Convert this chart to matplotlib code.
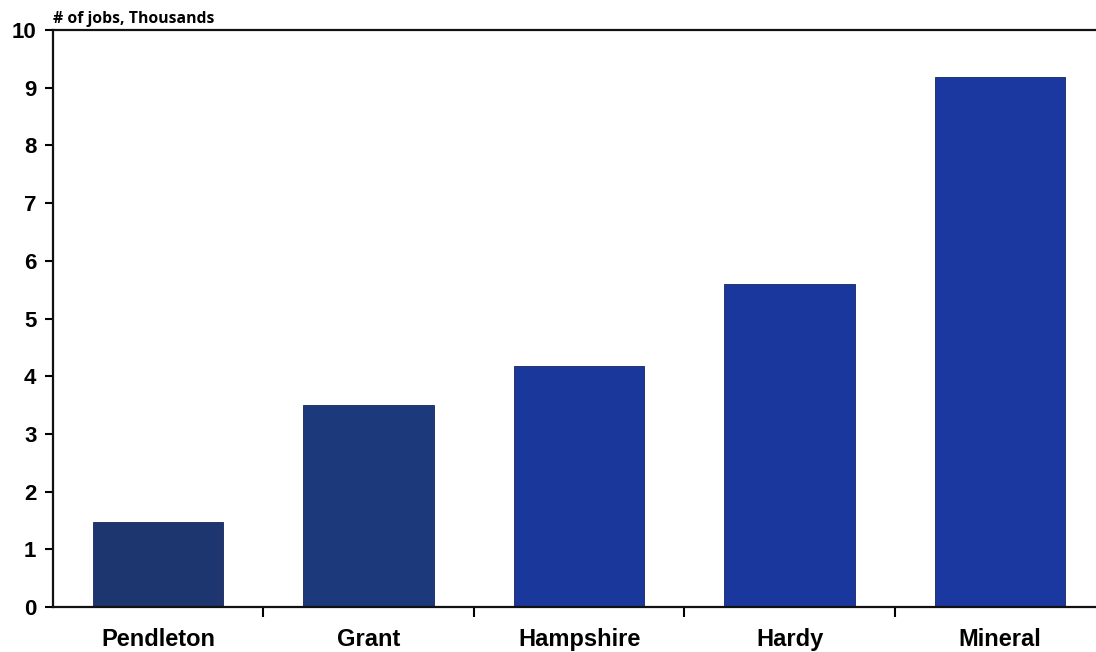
import numpy as np
from matplotlib import pyplot as plt

# Jobs by county, in thousands
counties = ['Pendleton', 'Grant', 'Hampshire', 'Hardy', 'Mineral']
jobs = [1.47, 3.50, 4.18, 5.60, 9.19]
bar_colors = ['#1d3670', '#1c397c', '#1a389c', '#1a379e', '#1a389f']

fig = plt.figure(figsize=(10.96, 6.52), dpi=100)
ax = fig.add_axes([0.0484, 0.069, 0.960, 0.885])

x = np.arange(len(counties))
ax.bar(x, jobs, width=0.62, color=bar_colors, edgecolor='#15255a', linewidth=0.6, zorder=2)

ax.set_xlim(-0.5, len(counties) - 0.5)
ax.set_ylim(0, 10)

# category labels at the centers, tick marks between categories
ax.set_xticks(x)
ax.set_xticklabels(counties, fontfamily='Liberation Sans', fontweight='bold', fontsize=17)
ax.tick_params(axis='x', which='major', length=0, pad=15)
ax.set_xticks(np.arange(len(counties)) + 0.5, minor=True)
ax.tick_params(axis='x', which='minor', length=7, width=1.5, direction='out')

ax.set_yticks(range(0, 11))
ax.set_yticklabels([str(v) for v in range(0, 11)], fontfamily='Liberation Sans',
                   fontweight='bold', fontsize=16)
ax.tick_params(axis='y', length=6, width=1.5, direction='out', pad=6)

for side in ['left', 'bottom', 'top']:
    ax.spines[side].set_linewidth(1.6)
    ax.spines[side].set_color('#111111')
ax.spines['right'].set_visible(False)

ax.text(0.0, 1.006, '# of jobs, Thousands', transform=ax.transAxes,
        fontfamily='Open Sans', fontweight='bold', fontsize=11.3, ha='left', va='bottom')

fig.savefig('out.png', dpi=100)
